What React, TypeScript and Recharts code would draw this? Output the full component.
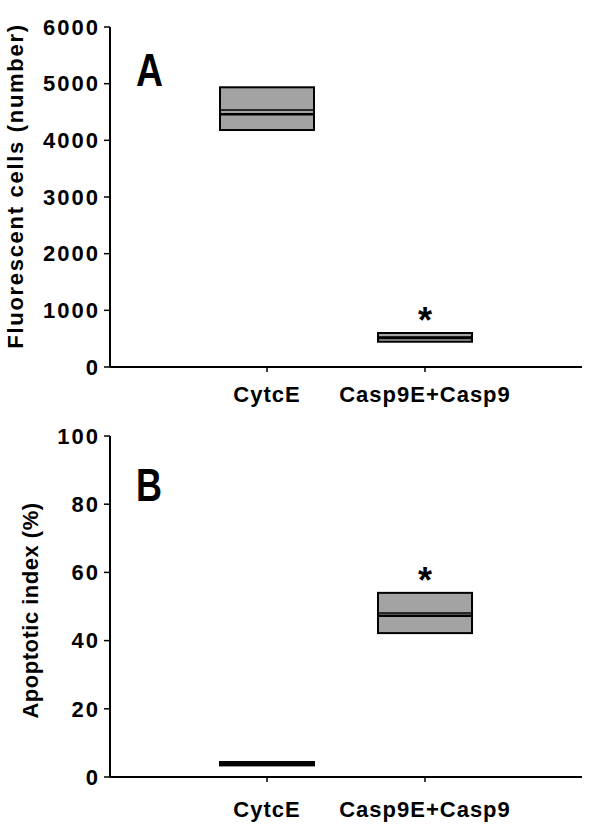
import React from "react";
import { ComposedChart, Bar, XAxis, YAxis, LabelList } from "recharts";

const groups = ["CytcE", "Casp9E+Casp9"];

// Panel A: fluorescent cells (number)
const cellsQ1 = [4182, 446];
const cellsQ3 = [4936, 600];
const cellsMedian = [4459, 512];
const cellsMean = [4535, 530];
const cellsSig = ["", "*"];
const cellsTicks = [0, 1000, 2000, 3000, 4000, 5000, 6000];

// Panel B: apoptotic index (%)
const apoQ1 = [3.4, 42.2];
const apoQ3 = [4.4, 54];
const apoMedian = [3.9, 47.3];
const apoMean = [4.1, 48.1];
const apoSig = ["", "*"];
const apoTicks = [0, 20, 40, 60, 80, 100];

const cellsData = groups.map((name, i) => ({
  name,
  q1: cellsQ1[i],
  q3: cellsQ3[i],
  median: cellsMedian[i],
  mean: cellsMean[i],
  sig: cellsSig[i],
}));
const apoData = groups.map((name, i) => ({
  name,
  q1: apoQ1[i],
  q3: apoQ3[i],
  median: apoMedian[i],
  mean: apoMean[i],
  sig: apoSig[i],
}));

const FONT = "'Liberation Sans', Arial, Helvetica, sans-serif";
const yTickStyle = {
  fontFamily: FONT,
  fontWeight: 700,
  fontSize: 22,
  fill: "#000",
  letterSpacing: 2,
};
const xTickStyle = {
  fontFamily: FONT,
  fontWeight: 700,
  fontSize: 22,
  fill: "#000",
  letterSpacing: 1,
};

const BoxShape = (props: any) => {
  const { x, y, width, height, payload } = props;
  const h = Math.max(height, 0.0001);
  const span = payload.q3 - payload.q1 || 1;
  const toY = (v: number) => y + ((payload.q3 - v) / span) * h;
  const yMed = toY(payload.median);
  const yMean = toY(payload.mean);
  return (
    <g>
      <rect x={x} y={y} width={width} height={height} fill="#a3a3a3" stroke="#000" strokeWidth={2} />
      <line x1={x} x2={x + width} y1={yMean} y2={yMean} stroke="#000" strokeWidth={1.5} />
      <line x1={x} x2={x + width} y1={yMed} y2={yMed} stroke="#000" strokeWidth={2.5} />
    </g>
  );
};

const StarLabel = (props: any) => {
  const { x, y, width, value } = props;
  if (!value) return null;
  return (
    <text
      x={x + width / 2}
      y={y}
      textAnchor="middle"
      fontFamily={FONT}
      fontWeight={700}
      fontSize={36}
      fill="#000"
    >
      {value}
    </text>
  );
};

const makeYLabel = (text: string, baseX: number, dyShift: number, spacing: number) => (props: any) => {
  const vb = props.viewBox || {};
  const cy = vb.y + vb.height / 2 + dyShift;
  return (
    <text
      x={baseX}
      y={cy}
      transform={`rotate(-90, ${baseX}, ${cy})`}
      textAnchor="middle"
      fontFamily={FONT}
      fontWeight={700}
      fontSize={22}
      letterSpacing={spacing}
      fill="#000"
    >
      {text}
    </text>
  );
};

const Panel = ({
  data,
  height,
  marginTop,
  xAxisHeight,
  tickMargin,
  domain,
  ticks,
  yLabel,
  labelX,
  labelShift,
  labelSpacing,
}: any) => (
  <ComposedChart
    width={608}
    height={height}
    data={data}
    margin={{ top: marginTop, right: 26, bottom: 0, left: 0 }}
  >
    <XAxis
      dataKey="name"
      type="category"
      padding={{ left: 78, right: 78 }}
      height={xAxisHeight}
      axisLine={{ stroke: "#000", strokeWidth: 2 }}
      tickLine={{ stroke: "#000", strokeWidth: 1.5 }}
      tickSize={5}
      tickMargin={tickMargin}
      tick={xTickStyle}
      interval={0}
    />
    <XAxis
      xAxisId="top"
      dataKey="name"
      orientation="top"
      height={0}
      padding={{ left: 78, right: 78 }}
      axisLine={{ stroke: "#000", strokeWidth: 2 }}
      tick={false}
      tickLine={false}
    />
    <YAxis
      type="number"
      domain={domain}
      ticks={ticks}
      width={110}
      axisLine={{ stroke: "#000", strokeWidth: 2 }}
      tickLine={{ stroke: "#000", strokeWidth: 1.5 }}
      tickSize={6}
      tickMargin={4}
      tick={yTickStyle}
      interval={0}
      label={{ content: makeYLabel(yLabel, labelX, labelShift, labelSpacing) }}
    />
    <YAxis
      yAxisId="right"
      orientation="right"
      width={0}
      domain={domain}
      axisLine={{ stroke: "#000", strokeWidth: 2 }}
      tick={false}
      tickLine={false}
    />
    <Bar
      dataKey={(d: any) => [d.q1, d.q3]}
      barSize={94}
      shape={BoxShape}
      isAnimationActive={false}
    >
      <LabelList dataKey="sig" content={StarLabel} />
    </Bar>
  </ComposedChart>
);

export default function App() {
  return (
    <div
      style={{
        position: "absolute",
        left: 0,
        top: 0,
        width: 608,
        height: 836,
        background: "#fff",
        overflow: "hidden",
      }}
    >
      <div style={{ position: "absolute", left: 0, top: 0 }}>
        <Panel
          data={cellsData}
          height={420}
          marginTop={27}
          xAxisHeight={53}
          tickMargin={14}
          domain={[0, 6000]}
          ticks={cellsTicks}
          yLabel="Fluorescent cells (number)"
          labelX={23}
          labelShift={-11}
          labelSpacing={1.7}
        />
      </div>
      <div style={{ position: "absolute", left: 0, top: 420 }}>
        <Panel
          data={apoData}
          height={416}
          marginTop={16}
          xAxisHeight={59}
          tickMargin={19}
          domain={[0, 100]}
          ticks={apoTicks}
          yLabel="Apoptotic index (%)"
          labelX={38}
          labelShift={4}
          labelSpacing={0.5}
        />
      </div>
      <svg
        width={608}
        height={836}
        style={{ position: "absolute", left: 0, top: 0, pointerEvents: "none" }}
      >
        <text
          x={136}
          y={86}
          fontFamily={FONT}
          fontWeight={700}
          fontSize={47}
          textLength={27}
          lengthAdjust="spacingAndGlyphs"
          fill="#000"
        >
          A
        </text>
        <text
          x={136}
          y={501}
          fontFamily={FONT}
          fontWeight={700}
          fontSize={47}
          textLength={26}
          lengthAdjust="spacingAndGlyphs"
          fill="#000"
        >
          B
        </text>
      </svg>
    </div>
  );
}
